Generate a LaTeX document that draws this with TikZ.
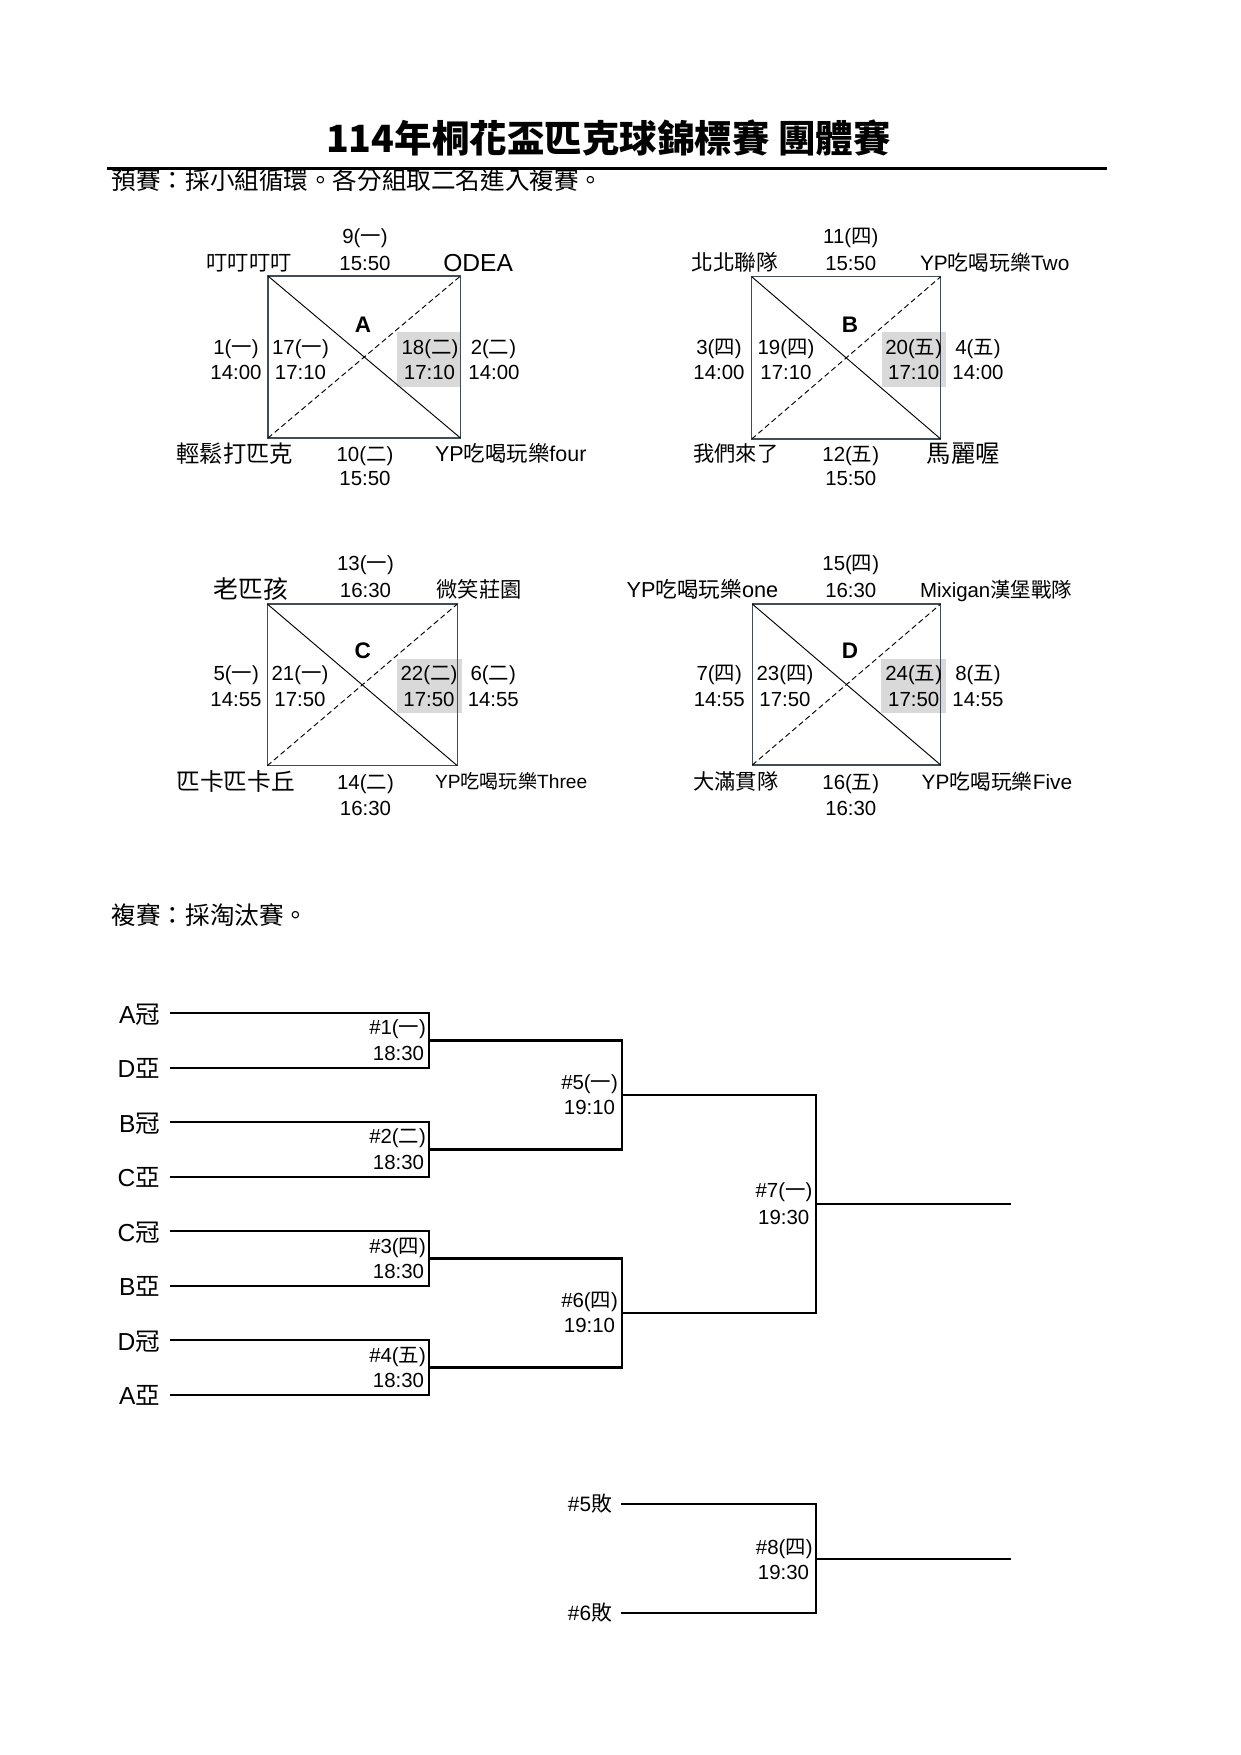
\documentclass[tikz,border=0pt]{standalone}
\usepackage{fontspec}
\setmainfont{Liberation Sans}
\newfontfamily\cj{Noto Sans CJK TC}
\definecolor{boxgray}{RGB}{64,76,86}
\definecolor{shadegray}{RGB}{217,217,217}
\tikzset{
  fs/.style={font=\fontsize{#1pt}{#1pt}\selectfont, inner sep=0pt, outer sep=0pt, yshift=-0.358*#1pt},
  num/.style={fs=9.8},
  grp/.style={font=\fontsize{10.8pt}{10.8pt}\selectfont\bfseries, inner sep=0pt, yshift=-0.358*10.8pt},
  boxline/.style={draw=boxgray, line width=0.75pt},
  diag/.style={draw=black, line width=0.45pt},
  ddiag/.style={draw=black, line width=0.45pt, dash pattern=on 2.6pt off 1.6pt},
  shade/.style={fill=shadegray, draw=none},
  brk/.style={draw=black, line width=1.1pt, line join=miter, line cap=rect},
}
\newcommand\grpframe[5]{%
  \coordinate (#1-nw) at (#2,#3);
  \coordinate (#1-se) at (#4,#5);
  \coordinate (#1-ne) at (#4,#3);
  \coordinate (#1-sw) at (#2,#5);
  \draw[boxline] (#1-nw) rectangle (#1-se);
  \draw[diag] (#1-nw) -- (#1-se);
  \draw[ddiag] (#1-sw) -- (#1-ne);
}
\newcommand\shadebox[5]{%
  \coordinate (#1-s1) at (#2,#3);
  \coordinate (#1-s2) at (#4,#5);
  \fill[shade] (#1-s1) rectangle (#1-s2);
}
\begin{document}
\begin{tikzpicture}[x=0.48pt, y=-0.48pt]
\useasboundingbox (0,0) rectangle (1241,1755);
\fill[white] (0,0) rectangle (1241,1755);

% ---------- title ----------
\node[fs=18, anchor=base] (title) at (608.3,139) {\cj\bfseries 114年桐花盃匹克球錦標賽 團體賽};
\node[fs=11.8, anchor=base west] (sub1) at (111.7,181) {\cj 預賽：採小組循環。各分組取二名進入複賽。};
\coordinate (rule-l) at (106.7,168.5);
\coordinate (rule-r) at (1106.7,168.5);
\draw[line width=1.45pt] (rule-l) -- (rule-r);

% ---------- group frames ----------
\shadebox{A}{396.7}{331.7}{460.5}{386.7}
\shadebox{B}{881.7}{331.7}{946}{386.7}
\shadebox{C}{396.7}{659}{461.7}{713.3}
\shadebox{D}{881}{659}{945.7}{713.3}
\grpframe{A}{268}{276}{460.5}{438}
\grpframe{B}{751.7}{276.7}{940.7}{439}
\grpframe{C}{267.3}{604}{457.3}{765.7}
\grpframe{D}{752.3}{604}{940.7}{765}

% ---------- group A ----------
\node[num, anchor=base] (A-t1) at (365,235.7) {9({\cj 一})};
\node[num, anchor=base] (A-t2) at (365,263) {15:50};
\node[fs=10.2, anchor=base east] (A-tl) at (291.7,263) {\cj 叮叮叮叮};
\node[fs=11.8, anchor=base west] (A-tr) at (443.3,263) {ODEA};
\node[grp, anchor=base] (A-g) at (363,324) {A};
\node[num, anchor=base] (A-l1) at (236,347.5) {1({\cj 一})};
\node[num, anchor=base] (A-l2) at (236,371.7) {14:00};
\node[num, anchor=base] (A-il1) at (300.5,347.5) {17({\cj 一})};
\node[num, anchor=base] (A-il2) at (300.5,371.7) {17:10};
\node[num, anchor=base] (A-ir1) at (430,347.5) {18({\cj 二})};
\node[num, anchor=base] (A-ir2) at (429.5,371.7) {17:10};
\node[num, anchor=base] (A-r1) at (493.5,347.5) {2({\cj 二})};
\node[num, anchor=base] (A-r2) at (494,371.7) {14:00};
\node[fs=11.2, anchor=base east] (A-bl) at (293,454) {\cj 輕鬆打匹克};
\node[num, anchor=base] (A-b1) at (365,454) {10({\cj 二})};
\node[num, anchor=base] (A-b2) at (365,478) {15:50};
\node[fs=10.3, anchor=base west] (A-br) at (435,454) {YP{\cj 吃喝玩樂}four};

% ---------- group B ----------
\node[num, anchor=base] (B-t1) at (850.8,235.7) {11({\cj 四})};
\node[num, anchor=base] (B-t2) at (850.8,263) {15:50};
\node[fs=10.4, anchor=base east] (B-tl) at (778.3,263) {\cj 北北聯隊};
\node[fs=10, anchor=base west] (B-tr) at (920,263) {YP{\cj 吃喝玩樂}Two};
\node[grp, anchor=base] (B-g) at (850,324) {B};
\node[num, anchor=base] (B-l1) at (719,347.5) {3({\cj 四})};
\node[num, anchor=base] (B-l2) at (719,371.7) {14:00};
\node[num, anchor=base] (B-il1) at (786,347.5) {19({\cj 四})};
\node[num, anchor=base] (B-il2) at (786,371.7) {17:10};
\node[num, anchor=base] (B-ir1) at (913.7,347.5) {20({\cj 五})};
\node[num, anchor=base] (B-ir2) at (913.7,371.7) {17:10};
\node[num, anchor=base] (B-r1) at (978,347.5) {4({\cj 五})};
\node[num, anchor=base] (B-r2) at (978,371.7) {14:00};
\node[fs=10.2, anchor=base east] (B-bl) at (778.3,454) {\cj 我們來了};
\node[num, anchor=base] (B-b1) at (850.8,454) {12({\cj 五})};
\node[num, anchor=base] (B-b2) at (850.8,478) {15:50};
\node[fs=11.7, anchor=base west] (B-br) at (926.7,454) {\cj 馬麗喔};

% ---------- group C ----------
\node[num, anchor=base] (C-t1) at (365.5,563.3) {13({\cj 一})};
\node[num, anchor=base] (C-t2) at (365.5,590) {16:30};
\node[fs=11.9, anchor=base east] (C-tl) at (288.3,590) {\cj 老匹孩};
\node[fs=10.2, anchor=base west] (C-tr) at (436.7,590) {\cj 微笑莊園};
\node[grp, anchor=base] (C-g) at (362.7,650.5) {C};
\node[num, anchor=base] (C-l1) at (236.3,673.3) {5({\cj 一})};
\node[num, anchor=base] (C-l2) at (236,699) {14:55};
\node[num, anchor=base] (C-il1) at (300,673.3) {21({\cj 一})};
\node[num, anchor=base] (C-il2) at (300,699) {17:50};
\node[num, anchor=base] (C-ir1) at (429,673.3) {22({\cj 二})};
\node[num, anchor=base] (C-ir2) at (429,699) {17:50};
\node[num, anchor=base] (C-r1) at (493.3,673.3) {6({\cj 二})};
\node[num, anchor=base] (C-r2) at (493.3,699) {14:55};
\node[fs=11.4, anchor=base east] (C-bl) at (295,781.7) {\cj 匹卡匹卡丘};
\node[num, anchor=base] (C-b1) at (365.5,781.7) {14({\cj 二})};
\node[num, anchor=base] (C-b2) at (365.5,808.3) {16:30};
\node[fs=9.2, anchor=base west] (C-br) at (435,781.7) {YP{\cj 吃喝玩樂}Three};

% ---------- group D ----------
\node[num, anchor=base] (D-t1) at (850.8,563.3) {15({\cj 四})};
\node[num, anchor=base] (D-t2) at (850.8,590) {16:30};
\node[fs=10.4, anchor=base east] (D-tl) at (778.3,590) {YP{\cj 吃喝玩樂}one};
\node[fs=9.8, anchor=base west] (D-tr) at (920,590) {Mixigan{\cj 漢堡戰隊}};
\node[grp, anchor=base] (D-g) at (850,650.5) {D};
\node[num, anchor=base] (D-l1) at (719.3,673.3) {7({\cj 四})};
\node[num, anchor=base] (D-l2) at (719.3,699) {14:55};
\node[num, anchor=base] (D-il1) at (785,673.3) {23({\cj 四})};
\node[num, anchor=base] (D-il2) at (785,699) {17:50};
\node[num, anchor=base] (D-ir1) at (913.7,673.3) {24({\cj 五})};
\node[num, anchor=base] (D-ir2) at (913.7,699) {17:50};
\node[num, anchor=base] (D-r1) at (978,673.3) {8({\cj 五})};
\node[num, anchor=base] (D-r2) at (978,699) {14:55};
\node[fs=10.2, anchor=base east] (D-bl) at (778.3,781.7) {\cj 大滿貫隊};
\node[num, anchor=base] (D-b1) at (850.8,781.7) {16({\cj 五})};
\node[num, anchor=base] (D-b2) at (850.8,808.3) {16:30};
\node[fs=10, anchor=base west] (D-br) at (921.7,781.7) {YP{\cj 吃喝玩樂}Five};

% ---------- knockout ----------
\node[fs=11.8, anchor=base west] (sub2) at (111.7,916) {\cj 複賽：採淘汰賽。};

\foreach \i/\y in {1/1013.3,2/1067.8,3/1122.3,4/1176.8,5/1231.3,6/1285.8,7/1340.3,8/1394.8}{
  \coordinate (s\i-l) at (171,\y);
  \coordinate (s\i-r) at (429,\y);
}
\foreach \i/\y in {1/1040.5,2/1149.5,3/1258.5,4/1367.5}{
  \coordinate (m\i-l) at (429,\y);
  \coordinate (m\i-r) at (622,\y);
}
\foreach \i/\y in {1/1095,2/1313}{
  \coordinate (n\i-l) at (622,\y);
  \coordinate (n\i-r) at (816,\y);
}
\coordinate (f-l) at (816,1204);
\coordinate (f-r) at (1010,1204);
\coordinate (p1-l) at (621.7,1504);
\coordinate (p1-r) at (816,1504);
\coordinate (p2-l) at (621.7,1613.3);
\coordinate (p2-r) at (816,1613.3);
\coordinate (pm-l) at (816,1558.7);
\coordinate (pm-r) at (1010,1558.7);

\draw[brk] (s1-l) -- (s1-r) -- (s2-r) -- (s2-l);
\draw[brk] (s3-l) -- (s3-r) -- (s4-r) -- (s4-l);
\draw[brk] (s5-l) -- (s5-r) -- (s6-r) -- (s6-l);
\draw[brk] (s7-l) -- (s7-r) -- (s8-r) -- (s8-l);
\draw[brk] (m1-l) -- (m1-r) -- (m2-r) -- (m2-l);
\draw[brk] (m3-l) -- (m3-r) -- (m4-r) -- (m4-l);
\draw[brk] (n1-l) -- (n1-r) -- (n2-r) -- (n2-l);
\draw[brk] (f-l) -- (f-r);
\draw[brk] (p1-l) -- (p1-r) -- (p2-r) -- (p2-l);
\draw[brk] (pm-l) -- (pm-r);

% seed labels
\node[fs=11.8, anchor=base east] (seed1) at (160,1014.3) {A{\cj 冠}};
\node[fs=11.8, anchor=base east] (seed2) at (160,1068.8) {D{\cj 亞}};
\node[fs=11.8, anchor=base east] (seed3) at (160,1123.3) {B{\cj 冠}};
\node[fs=11.8, anchor=base east] (seed4) at (160,1177.8) {C{\cj 亞}};
\node[fs=11.8, anchor=base east] (seed5) at (160,1232.3) {C{\cj 冠}};
\node[fs=11.8, anchor=base east] (seed6) at (160,1286.8) {B{\cj 亞}};
\node[fs=11.8, anchor=base east] (seed7) at (160,1341.3) {D{\cj 冠}};
\node[fs=11.8, anchor=base east] (seed8) at (160,1395.8) {A{\cj 亞}};

% match labels
\node[num, anchor=base east] (g1a) at (426,1027.5) {\#1({\cj 一})};
\node[num, anchor=base east] (g1b) at (424,1053) {18:30};
\node[num, anchor=base east] (g2a) at (426,1136.5) {\#2({\cj 二})};
\node[num, anchor=base east] (g2b) at (424,1162) {18:30};
\node[num, anchor=base east] (g3a) at (426,1246) {\#3({\cj 四})};
\node[num, anchor=base east] (g3b) at (424,1271.5) {18:30};
\node[num, anchor=base east] (g4a) at (426,1355) {\#4({\cj 五})};
\node[num, anchor=base east] (g4b) at (424,1380.5) {18:30};
\node[num, anchor=base east] (g5a) at (618,1082) {\#5({\cj 一})};
\node[num, anchor=base east] (g5b) at (615,1107) {19:10};
\node[num, anchor=base east] (g6a) at (618,1300) {\#6({\cj 四})};
\node[num, anchor=base east] (g6b) at (615,1325) {19:10};
\node[num, anchor=base east] (g7a) at (812.3,1190) {\#7({\cj 一})};
\node[num, anchor=base east] (g7b) at (809.3,1216.7) {19:30};
\node[num, anchor=base east] (g8a) at (812.7,1546.7) {\#8({\cj 四})};
\node[num, anchor=base east] (g8b) at (809,1571.7) {19:30};
\node[fs=10, anchor=base east] (l5) at (612,1504) {\#5{\cj 敗}};
\node[fs=10, anchor=base east] (l6) at (612,1613.3) {\#6{\cj 敗}};
\end{tikzpicture}
\end{document}
